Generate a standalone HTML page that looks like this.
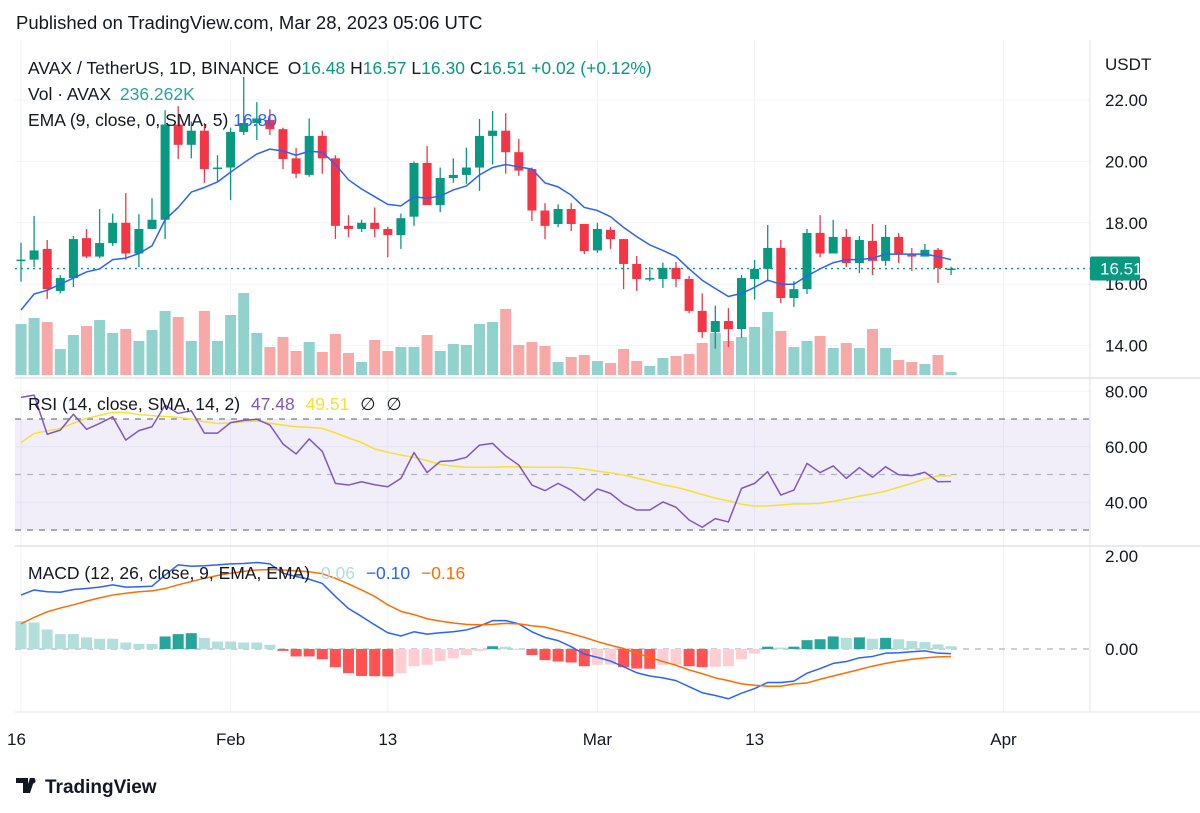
<!DOCTYPE html>
<html><head><meta charset="utf-8"><style>
html,body{margin:0;padding:0;background:#fff;}
svg{display:block;font-family:"Liberation Sans",Arial,sans-serif;}
</style></head><body>
<svg id="chart" width="1200" height="813" viewBox="0 0 1200 813" xmlns="http://www.w3.org/2000/svg">
<rect x="0" y="0" width="1200" height="813" fill="#fff"/>
<text x="16" y="29" font-size="18.5" fill="#131722">Published on TradingView.com, Mar 28, 2023 05:06 UTC</text>
<g id="grid"></g>
<rect x="15" y="419" width="1075" height="111" fill="#7E57C2" fill-opacity="0.1"/>
<g id="marks"></g>
<line x1="1090" y1="40" x2="1090" y2="712" stroke="#e0e3eb"/>
<line x1="15" y1="378" x2="1200" y2="378" stroke="#e0e3eb" stroke-width="1.5"/>
<line x1="15" y1="546" x2="1200" y2="546" stroke="#e0e3eb" stroke-width="1.5"/>
<line x1="15" y1="712" x2="1200" y2="712" stroke="#e0e3eb" stroke-width="1"/>
<g id="axes" font-size="17" fill="#131722"></g>
<g font-size="17.5">
<text x="28" y="74" fill="#131722">AVAX / TetherUS, 1D, BINANCE <tspan dx="4">O</tspan><tspan fill="#089981">16.48</tspan> <tspan>H</tspan><tspan fill="#089981">16.57</tspan> <tspan>L</tspan><tspan fill="#089981">16.30</tspan> <tspan>C</tspan><tspan fill="#089981">16.51</tspan> <tspan fill="#089981">+0.02 (+0.12%)</tspan></text>
<text x="28" y="100" fill="#131722">Vol · AVAX <tspan fill="#26a69a" dx="4">236.262K</tspan></text>
<text x="28" y="126" fill="#131722">EMA (9, close, 0, SMA, 5) <tspan fill="#2962FF">16.80</tspan></text>
</g>
<text x="28" y="410" font-size="17.5" fill="#131722">RSI (14, close, SMA, 14, 2) <tspan fill="#7E57C2" dx="6">47.48</tspan> <tspan fill="#F5E033" dx="6">49.51</tspan> <tspan dx="6">∅</tspan> <tspan dx="6">∅</tspan></text>
<text x="28" y="579" font-size="17.5" fill="#131722">MACD (12, 26, close, 9, EMA, EMA) <tspan fill="#B2DFDB" dx="6">0.06</tspan> <tspan fill="#2962FF" dx="6">−0.10</tspan> <tspan fill="#FF6D00" dx="6">−0.16</tspan></text>
<g>
<path d="M16 778h12v15h-5v-10h-7z M30 778h5l-5 15h-5z" fill="#131722"/>
<circle cx="33" cy="781" r="2.5" fill="#131722"/>
<text x="45" y="793" font-size="19" font-weight="bold" fill="#131722">TradingView</text>
</g>
</svg>
<script>
const opens=[16.79,16.8,17.15,15.78,16.2,17.5,16.9,17.34,18.0,17.0,17.8,18.1,21.2,20.54,21.0,19.75,19.8,20.96,21.25,21.35,21.05,20.1,19.56,20.83,20.1,17.9,17.8,18.0,17.8,17.6,18.2,19.95,18.58,19.46,19.56,19.8,20.83,21.0,20.3,19.75,18.4,17.96,18.45,17.96,17.1,17.77,17.47,16.66,16.15,16.17,16.53,16.17,15.13,14.44,14.8,14.54,16.17,16.5,17.18,15.55,15.84,17.67,17.0,17.54,16.69,17.41,16.76,17.54,17.0,16.9,17.12,16.48];
const highs=[17.35,18.22,17.44,16.3,17.57,17.8,18.45,18.3,18.97,18.28,18.8,21.67,21.8,21.3,21.25,20.2,21.1,22.75,21.93,21.7,21.1,20.44,21.4,21.0,20.2,18.25,18.1,18.5,17.87,18.3,20.0,20.5,19.8,20.1,20.45,21.38,21.64,21.57,20.73,19.8,18.64,18.6,18.64,17.96,18.0,17.87,17.47,16.92,16.56,16.7,16.72,16.27,15.7,15.3,15.22,16.3,16.79,17.93,17.44,16.1,17.8,18.25,18.1,17.8,17.57,17.96,17.93,17.67,17.18,17.31,17.18,16.57];
const lows=[16.08,16.56,15.52,15.7,15.9,16.85,16.85,17.25,16.8,16.56,17.8,17.47,20.08,20.1,19.3,19.33,18.74,20.86,20.7,20.86,19.75,19.46,19.5,19.6,17.47,17.54,17.7,17.54,16.88,17.15,17.9,18.58,18.35,19.3,19.27,19.04,19.9,19.6,19.53,18.06,17.47,17.86,17.73,16.98,17.02,17.15,15.84,15.78,16.1,15.88,15.9,15.06,14.25,13.9,13.95,14.25,15.5,16.1,15.39,15.26,15.68,16.88,17.0,16.56,16.36,16.3,16.6,16.69,16.43,16.9,16.04,16.30];
const closes=[16.8,17.1,15.84,16.2,17.47,16.9,17.34,18.0,17.0,17.8,18.1,21.2,20.54,21.0,19.75,19.8,20.96,21.25,21.4,21.05,20.08,19.6,20.83,20.1,17.9,17.8,18.0,17.8,17.6,18.15,19.95,18.58,19.46,19.56,19.8,20.83,21.0,20.3,19.7,18.4,17.9,18.45,17.96,17.08,17.8,17.47,16.66,16.17,16.2,16.53,16.17,15.13,14.44,14.8,14.54,16.2,16.5,17.18,15.55,15.84,17.67,17.0,17.54,16.69,17.44,16.76,17.54,17.0,16.9,17.12,16.53,16.51];
const volumes=[4080,4560,4240,2080,3200,3920,4400,3360,3680,2720,3600,5120,4640,2720,5120,2720,4800,6560,3360,2240,3040,1920,2640,1840,3280,1760,1040,2800,1920,2240,2240,3200,1920,2480,2400,4080,4240,5280,2400,2640,2320,1040,1440,1600,1120,960,2080,1120,720,1360,1520,1680,2560,3360,2720,3040,3840,5040,3520,2240,2720,3120,2160,2560,2160,3680,2160,1200,1040,880,1600,236];
const emaLine=[15.16,15.68,15.8,16.0,16.2,16.4,16.5,16.8,16.85,17.0,17.25,18.1,18.5,19.0,19.15,19.33,19.65,19.95,20.24,20.4,20.34,20.2,20.33,20.3,19.9,19.4,19.1,18.85,18.6,18.55,18.85,18.8,18.87,19.07,19.2,19.56,19.8,19.9,19.82,19.75,19.3,19.17,18.9,18.5,18.4,18.2,17.85,17.55,17.28,17.1,16.9,16.5,16.13,15.86,15.6,15.7,15.9,16.13,16.0,16.0,16.27,16.5,16.7,16.8,16.8,16.85,16.98,16.98,16.98,16.98,16.9,16.8];
const rsiValues=[77.8,78.6,64.5,66.0,71.7,66.3,68.4,70.8,62.4,65.8,67.2,75.0,72.0,73.0,64.9,64.9,68.7,69.5,69.9,67.8,61.0,57.4,62.8,58.3,46.8,46.2,47.4,46.3,45.6,48.6,57.9,50.7,54.7,55.0,56.2,60.6,61.2,56.7,53.4,46.2,44.2,46.8,44.4,40.6,44.8,43.2,39.4,37.2,37.2,40.1,38.2,33.6,31.0,34.1,32.9,45.0,46.8,51.0,42.6,44.4,54.0,50.7,53.1,48.6,52.5,49.0,52.8,49.9,49.6,50.8,47.4,47.48];
const rsiSma=[61.5,64.8,65.7,66.6,68.5,70.2,71.3,72.4,72.4,71.6,71.2,70.9,70.6,70.0,69.0,68.4,68.6,69.0,69.3,68.5,67.8,67.2,67.0,66.6,65.0,63.2,61.5,59.2,58.0,57.0,56.2,55.0,53.6,53.0,52.6,52.6,52.6,52.8,52.8,52.6,52.6,52.6,52.5,52.0,51.2,50.6,49.8,48.7,47.6,46.3,45.4,44.2,42.8,41.5,40.5,39.3,38.6,38.7,39.0,39.4,39.4,39.6,40.3,41.2,42.2,43.0,44.0,45.4,46.8,48.4,49.5,49.51];
const macdValues=[1.16,1.27,1.23,1.22,1.28,1.30,1.33,1.38,1.33,1.34,1.35,1.59,1.81,1.78,1.79,1.81,1.83,1.84,1.86,1.83,1.63,1.56,1.50,1.41,1.13,0.87,0.70,0.52,0.35,0.28,0.37,0.32,0.35,0.37,0.41,0.49,0.61,0.61,0.54,0.37,0.25,0.18,0.05,-0.11,-0.18,-0.26,-0.38,-0.51,-0.58,-0.62,-0.68,-0.81,-0.94,-1.0,-1.07,-0.95,-0.85,-0.72,-0.72,-0.69,-0.52,-0.42,-0.31,-0.27,-0.19,-0.16,-0.09,-0.08,-0.06,-0.04,-0.09,-0.10];
const signalValues=[0.54,0.68,0.80,0.88,0.95,1.03,1.10,1.16,1.20,1.23,1.25,1.30,1.38,1.45,1.52,1.58,1.63,1.67,1.70,1.71,1.70,1.68,1.66,1.62,1.52,1.40,1.27,1.13,0.95,0.81,0.74,0.65,0.60,0.56,0.53,0.52,0.53,0.55,0.54,0.50,0.47,0.40,0.33,0.25,0.16,0.08,0.01,-0.09,-0.18,-0.27,-0.35,-0.45,-0.53,-0.62,-0.68,-0.75,-0.78,-0.80,-0.80,-0.75,-0.73,-0.65,-0.58,-0.51,-0.44,-0.37,-0.31,-0.26,-0.22,-0.19,-0.17,-0.16];
const histValues=[0.60,0.57,0.42,0.32,0.32,0.25,0.22,0.22,0.14,0.11,0.11,0.27,0.32,0.34,0.24,0.16,0.16,0.14,0.14,0.09,-0.04,-0.16,-0.16,-0.22,-0.39,-0.52,-0.58,-0.585,-0.59,-0.52,-0.37,-0.34,-0.26,-0.2,-0.13,-0.04,0.06,0.05,0.005,-0.13,-0.24,-0.27,-0.29,-0.37,-0.34,-0.335,-0.39,-0.42,-0.425,-0.34,-0.335,-0.37,-0.39,-0.38,-0.37,-0.22,-0.10,0.05,0.03,0.05,0.19,0.21,0.27,0.24,0.25,0.22,0.24,0.21,0.17,0.15,0.10,0.06];
const priceTicks=[22,20,18,16,14];
const rsiTicks=[80,60,40];
const macdTicks=[2,0];
const dateLabels=["16","Feb","13","Mar","13","Apr"];
const dateIndex=[0,16,28,44,56,75];
const lastPrice=16.51;

const NS="http://www.w3.org/2000/svg";
const xi=i=>21+i*13.1;
const yP=p=>100+(22-p)*30.7;
const yV=v=>375-v/80;
const yR=r=>419+(70-r)*2.775;
const yM=m=>649-m*46.5;
function mk(tag,attrs,parent){const e=document.createElementNS(NS,tag);for(const k in attrs)e.setAttribute(k,attrs[k]);parent.appendChild(e);return e;}
const grid=document.getElementById('grid'),marks=document.getElementById('marks'),axes=document.getElementById('axes');

priceTicks.forEach(p=>{const l=mk('line',{x1:15,x2:1090,y1:yP(p),y2:yP(p),stroke:'#f0f3fa'},grid);});
[80,60,40].forEach(r=>{const l=mk('line',{x1:15,x2:1090,y1:yR(r),y2:yR(r),stroke:'#f0f3fa'},grid);});
dateIndex.forEach(d=>{const l=mk('line',{x1:xi(d),x2:xi(d),y1:40,y2:712,stroke:'#f0f3fa'},grid);});

volumes.forEach((v,i)=>{const up=closes[i]>=opens[i];const r=mk('rect',{x:xi(i)-5.5,y:yV(v),width:11,height:375-yV(v),fill:up?'#92d2cc':'#f7a9a7'},marks);});

const lp=mk('line',{x1:15,x2:1090,y1:yP(lastPrice),y2:yP(lastPrice),stroke:'#089981','stroke-dasharray':'2 4','stroke-width':1.3},marks);



closes.forEach((c,i)=>{const o=opens[i],up=c>=o,col=up?'#089981':'#F23645';
const g=mk('g',{},marks);
mk('line',{x1:xi(i),x2:xi(i),y1:yP(highs[i]),y2:yP(lows[i]),stroke:col,'stroke-width':1.3},g);
const t=yP(Math.max(o,c)),b=yP(Math.min(o,c));
mk('rect',{x:xi(i)-4.5,y:t,width:9,height:Math.max(1.5,b-t),fill:col},g);});

function poly(arr,fy,col,w,name){const pts=arr.map((v,i)=>xi(i)+','+fy(v)).join(' ');const p=mk('polyline',{points:pts,fill:'none',stroke:col,'stroke-width':w,'stroke-linejoin':'round'},marks);}
poly(emaLine,yP,'#2962FF',1.5,'ema-line');

[70,50,30].forEach(r=>{const l=mk('line',{x1:15,x2:1090,y1:yR(r),y2:yR(r),stroke:r==50?'#b2b5be':'#787b86','stroke-dasharray':'6 6','stroke-width':1.2},marks);});
poly(rsiSma,yR,'#F5E033',1.5,'rsi-sma-line');
poly(rsiValues,yR,'#7E57C2',1.5,'rsi-line');

const zl=mk('line',{x1:15,x2:1090,y1:yM(0),y2:yM(0),stroke:'#b2b5be','stroke-dasharray':'6 6','stroke-width':1.2},marks);


histValues.forEach((h,i)=>{const prev=i>0?histValues[i-1]:h+1;let col;if(h>=0)col=h>prev?'#26A69A':'#B2DFDB';else col=h<=prev?'#FF5252':'#FFCDD2';
const y0=yM(0),y1=yM(h);const r=mk('rect',{x:xi(i)-5.5,y:Math.min(y0,y1),width:11,height:Math.max(1,Math.abs(y1-y0)),fill:col},marks);});
poly(macdValues,yM,'#2962FF',1.5,'macd-line');
poly(signalValues,yM,'#FF6D00',1.5,'signal-line');

const au=mk('text',{x:1105,y:70},axes);au.textContent='USDT';
priceTicks.forEach(p=>{const t=mk('text',{x:1105,y:yP(p)+6},axes);t.textContent=p.toFixed(2);});
rsiTicks.forEach(r=>{const t=mk('text',{x:1105,y:yR(r)+6},axes);t.textContent=r.toFixed(2);});
macdTicks.forEach(m=>{const t=mk('text',{x:1105,y:yM(m)+6},axes);t.textContent=m.toFixed(2);});
dateLabels.forEach((d,k)=>{const t=mk('text',{x:k==0?7:xi(dateIndex[k]),y:745,'text-anchor':k==0?'start':'middle'},axes);t.textContent=d;});
const bx=mk('rect',{x:1090,y:yP(lastPrice)-12,width:50,height:24,rx:2,fill:'#089981'},axes);


const bt=mk('text',{x:1100,y:yP(lastPrice)+6,fill:'#fff'},axes);bt.textContent=lastPrice.toFixed(2);


</script>
</body></html>
